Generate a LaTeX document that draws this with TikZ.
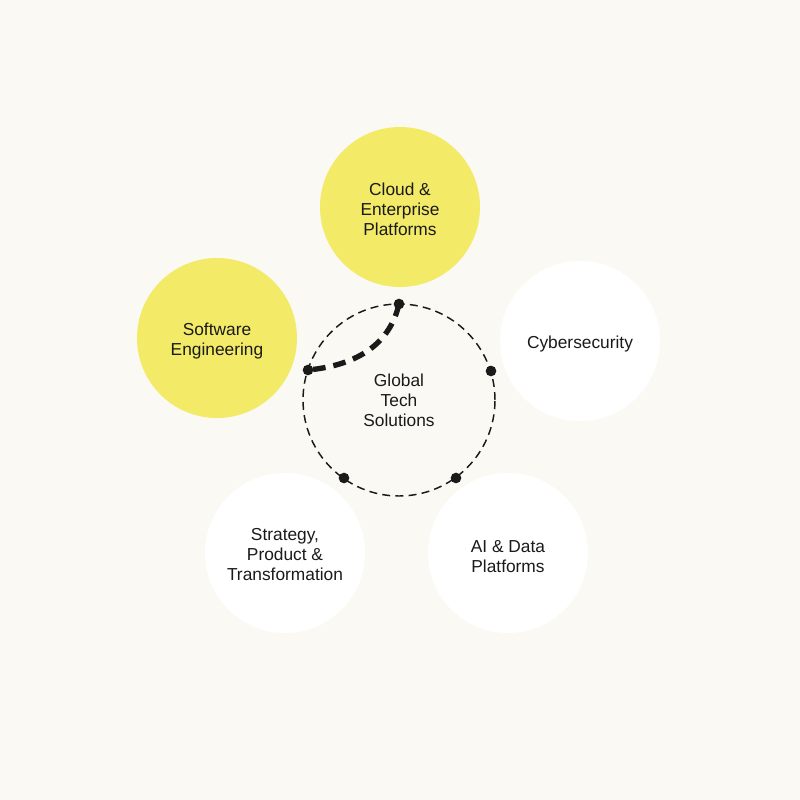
\documentclass[tikz,border=0pt]{standalone}
\usepackage{fontspec}
\setmainfont{Liberation Sans}
\definecolor{bgc}{HTML}{FAF9F3}
\definecolor{yel}{HTML}{F3EB68}
\definecolor{txt}{HTML}{1A1A1A}
\begin{document}
\begin{tikzpicture}[x=0.75pt,y=-0.75pt,
  lbl/.style={align=center,text=txt,font=\fontsize{13pt}{15pt}\selectfont},
  bubble/.style={circle,minimum size=120pt,inner sep=0pt},
  ybubble/.style={bubble,fill=yel},
  wbubble/.style={bubble,fill=white},
  dotnode/.style={circle,fill=txt,minimum size=8pt,inner sep=0pt},
  ring/.style={draw=txt,line width=1.1pt,dash pattern=on 6pt off 3.9pt},
  link/.style={draw=txt,line width=4pt,dash pattern=on 9.5pt off 6pt}]
\fill[bgc] (0,0) rectangle (800,800);
\useasboundingbox (0,0) rectangle (800,800);
% outer bubbles
\node[ybubble] (cloud) at (400,207) {};
\node[ybubble] (soft) at (217,338) {};
\node[wbubble] (cyber) at (580,341) {};
\node[wbubble] (strat) at (285,553) {};
\node[wbubble] (ai) at (508,553) {};
\node[lbl] (tcloud) at ([yshift=-2pt]cloud.center) {Cloud \&\\Enterprise\\Platforms};
\node[lbl] (tsoft) at ([yshift=-2.5pt]soft.center) {Software\\Engineering};
\node[lbl] (tcyber) at ([yshift=-2.5pt]cyber.center) {Cybersecurity};
\node[lbl] (tstrat) at ([yshift=-1pt]strat.center) {Strategy,\\Product \&\\Transformation};
\node[lbl] (tai) at ([yshift=-2.5pt]ai.center) {AI \& Data\\Platforms};
% central ring
\coordinate (c) at (399,400);
\draw[ring] (c) circle[radius=72pt];
\node[lbl] (core) at (c) {Global\\Tech\\Solutions};
% dots
\node[dotnode] (d1) at (399,304) {};
\node[dotnode] (d2) at (308,370) {};
\node[dotnode] (d3) at (491,371) {};
\node[dotnode] (d4) at (344,478) {};
\node[dotnode] (d5) at (456,478) {};
% thick dashed link
\draw[link] (d1.center) .. controls (390,343) and (359,365) .. (d2.center);
\end{tikzpicture}
\end{document}
